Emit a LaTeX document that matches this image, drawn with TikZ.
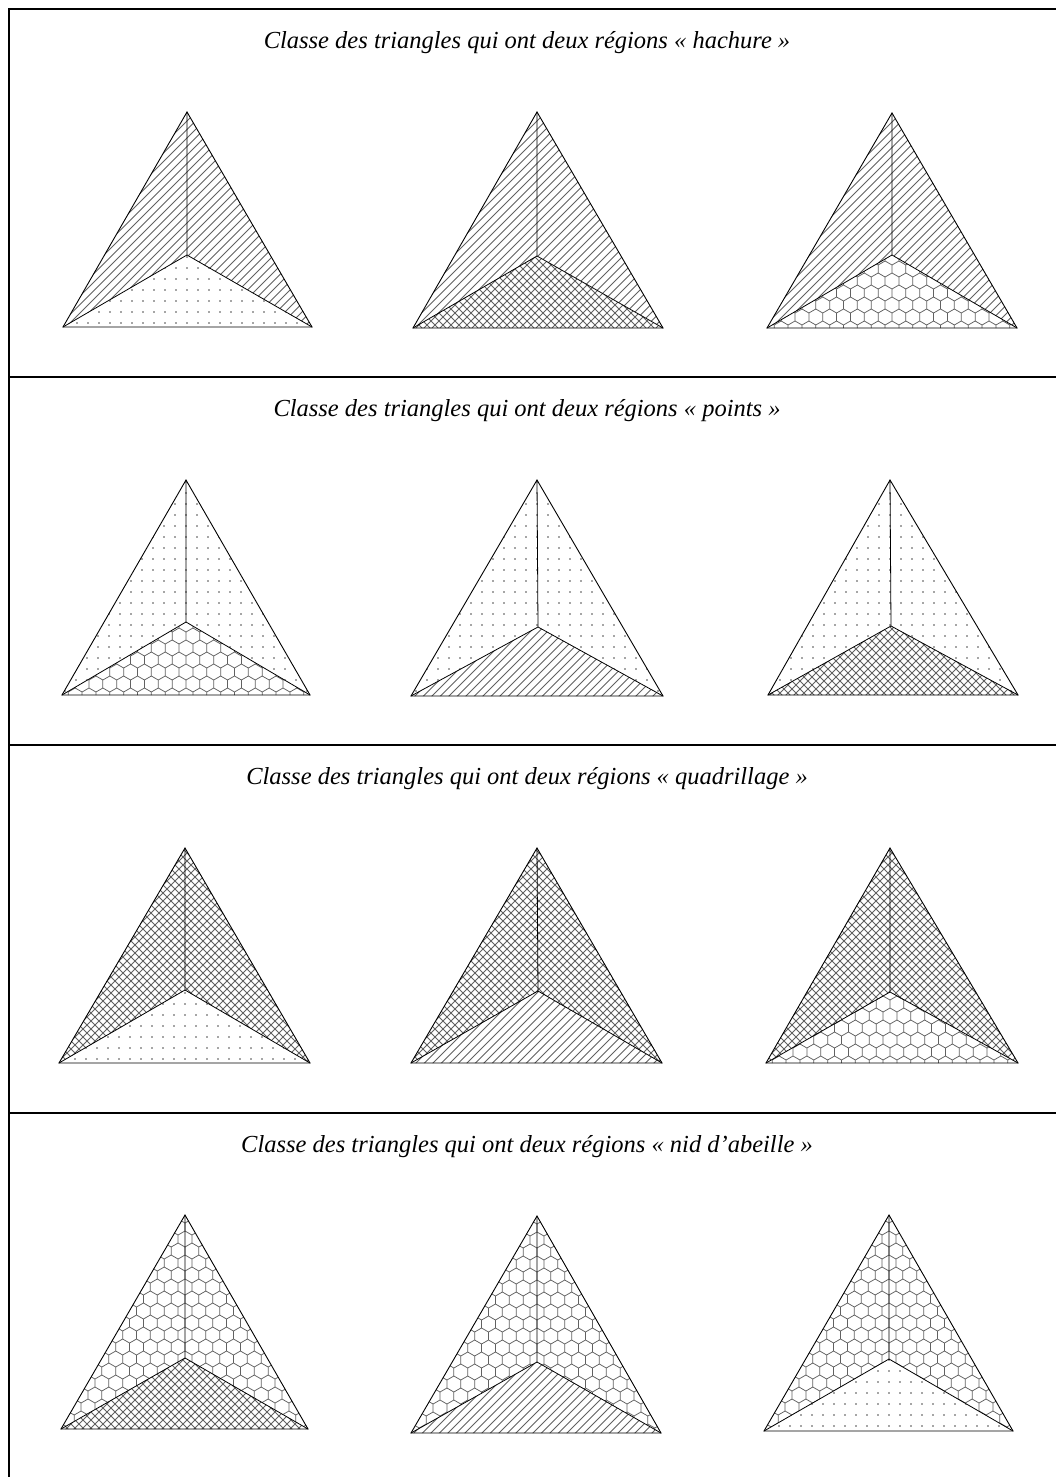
\documentclass[tikz,border=0pt]{standalone}
\usepackage{fontspec}
\setmainfont{Liberation Serif}
\tikzset{
  edge/.style={line width=0.9pt, black},
  divider/.style={line width=0.8pt, black},
  patline/.style={line width=0.75pt, black!62},
  dotfill/.style={black!70},
  frameline/.style={line width=2pt, black},
  titlenode/.style={font=\fontsize{24.5}{29}\selectfont\itshape, anchor=center, inner sep=0pt},
}
\newcommand\patHach{%
  \draw[patline] \foreach \k in {-260,-251.5,...,170} {(\k,235) -- ++(250,-250)};}
\newcommand\patQuad{%
  \draw[patline] \foreach \k in {-260,-252,...,170} {(\k,235) -- ++(250,-250)};
  \draw[patline] \foreach \k in {-160,-152,...,400} {(\k,235) -- ++(-250,-250)};}
\newcommand\patPts{%
  \foreach \i in {-13,...,13} {\foreach \j in {0,...,21} {\fill[dotfill] (\i*11, 2+\j*11) circle (0.85);}}}
\newcommand\patHex{%
  \draw[patline] \foreach \j in {0,...,20} {\foreach \i in {-11,...,11} {
    ({\i*13.856+mod(\j,2)*6.928-6.928},{\j*12+4}) -- ++(0,-8) -- ++(6.928,-4) -- ++(6.928,4)}};}
\newcommand\tri[7]{%
  \coordinate (#1a) at (#2); \coordinate (#1l) at (#3);
  \coordinate (#1r) at (#4); \coordinate (#1i) at (#5);
  \begin{scope}\clip (#1a) -- (#1l) -- (#1i) -- (#1r) -- cycle;
    \begin{scope}[shift={(#1a)}]#6\end{scope}\end{scope}
  \begin{scope}\clip (#1l) -- (#1i) -- (#1r) -- cycle;
    \begin{scope}[shift={(#1a)}]#7\end{scope}\end{scope}
  \draw[edge] (#1a) -- (#1l) -- (#1r) -- cycle;
  \draw[divider] (#1i) -- (#1a) (#1i) -- (#1l) (#1i) -- (#1r);
}
\begin{document}
\begin{tikzpicture}[x=1pt,y=-1pt]
\useasboundingbox (0,0) rectangle (1056,1477);
\fill[white] (0,0) rectangle (1056,1477);
% frame and separators
\draw[frameline] (9,1490) -- (9,9) -- (1070,9);
\draw[frameline] (9,377) -- (1070,377);
\draw[frameline] (9,745) -- (1070,745);
\draw[frameline] (9,1113) -- (1070,1113);
% titles
\node[titlenode] (t1) at (527,43) {Classe des triangles qui ont deux régions « hachure »};
\node[titlenode] (t2) at (527,411) {Classe des triangles qui ont deux régions « points »};
\node[titlenode] (t3) at (527,779) {Classe des triangles qui ont deux régions « quadrillage »};
\node[titlenode] (t4) at (527,1147) {Classe des triangles qui ont deux régions « nid d’abeille »};
% row 1 : hachure
\tri{ra}{187,112}{63,327}{312,327}{187,255}{\patHach}{\patPts}
\tri{rb}{537,112}{413,328}{663,328}{537,256}{\patHach}{\patQuad}
\tri{rc}{892,113}{767,328}{1017,328}{892,255}{\patHach}{\patHex}
% row 2 : points
\tri{sa}{186,480}{62,695}{310,695}{186,622}{\patPts}{\patHex}
\tri{sb}{537,480}{411,696}{663,696}{538,627}{\patPts}{\patHach}
\tri{sc}{890,480}{768,695}{1018,695}{891,626}{\patPts}{\patQuad}
% row 3 : quadrillage
\tri{qa}{185,848}{59,1063}{310,1063}{185,990}{\patQuad}{\patPts}
\tri{qb}{537,848}{411,1063}{662,1063}{538,991}{\patQuad}{\patHach}
\tri{qc}{890,848}{766,1063}{1018,1063}{890,992}{\patQuad}{\patHex}
% row 4 : nid d'abeille
\tri{na}{185,1215}{61,1429}{308,1429}{185,1358}{\patHex}{\patQuad}
\tri{nb}{537,1216}{411,1433}{661,1433}{537,1362}{\patHex}{\patHach}
\tri{nc}{889,1215}{764,1431}{1013,1431}{889,1359}{\patHex}{\patPts}
\end{tikzpicture}
\end{document}
